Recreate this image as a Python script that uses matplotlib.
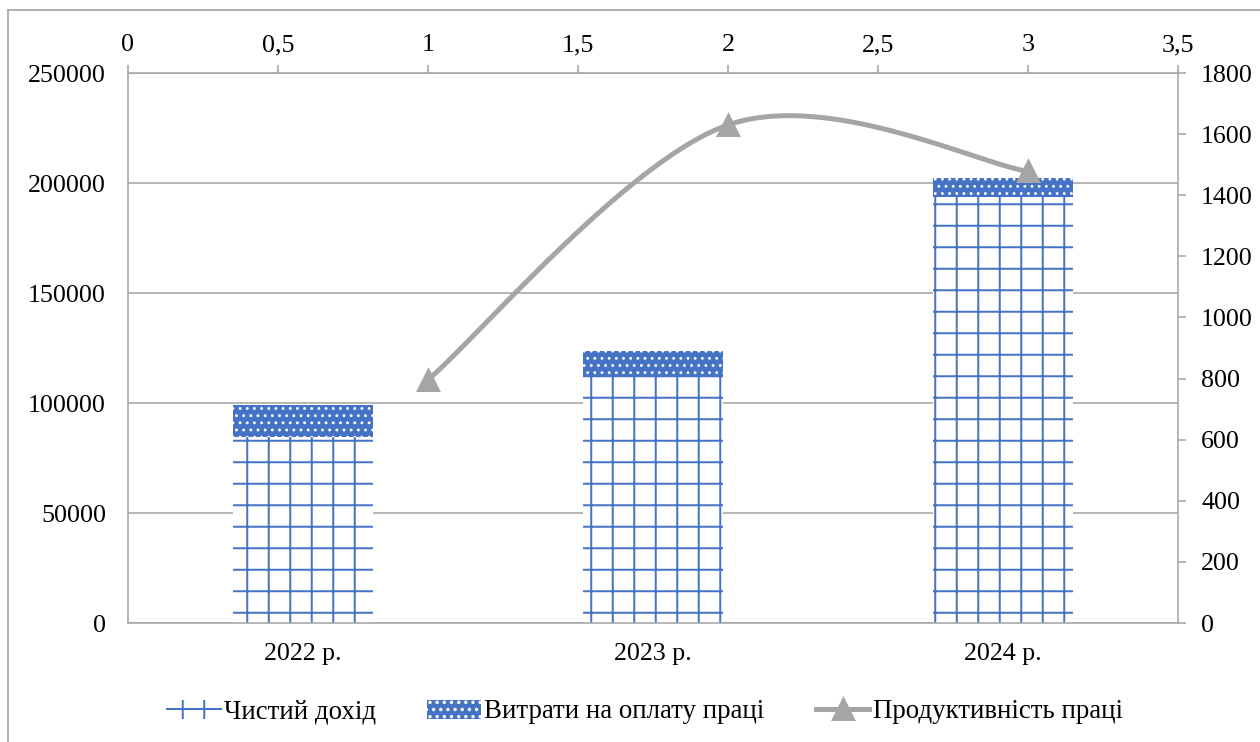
import numpy as np
import matplotlib
matplotlib.use("Agg")
import matplotlib.pyplot as plt
from matplotlib.lines import Line2D
from matplotlib.patches import Patch
from matplotlib.legend_handler import HandlerTuple

# --- data -------------------------------------------------------------
years = ["2022 р.", "2023 р.", "2024 р."]
net_income = [84500, 112300, 193800]          # Чистий дохід
labour_costs = [14500, 11500, 8300]           # Витрати на оплату праці
productivity_x = [1, 2, 3]
productivity = [796, 1630, 1478]              # Продуктивність праці

left_ticks = [0, 50000, 100000, 150000, 200000, 250000]
right_ticks = [0, 200, 400, 600, 800, 1000, 1200, 1400, 1600, 1800]
top_ticks = [0, 0.5, 1, 1.5, 2, 2.5, 3, 3.5]

# --- style ------------------------------------------------------------
DPI = 129
W, H = 1260, 742
BLUE = "#4472C4"
GREY = "#A5A5A5"
AXIS = "#A6A6A6"
FS = 14.5

plt.rcParams["font.family"] = ["Liberation Serif", "DejaVu Serif"]
plt.rcParams["hatch.linewidth"] = 1.1


def px(v):
    return v * 72.0 / DPI


fig = plt.figure(figsize=(W / DPI, H / DPI), dpi=DPI)
ax = fig.add_axes([128 / W, 1 - 623 / H, (1178 - 128) / W, (623 - 73) / H])

x = np.arange(len(years))
with plt.rc_context({"hatch.linewidth": 1.1}):
    ax.bar(x, net_income, width=0.4, facecolor="white", edgecolor=BLUE,
           linewidth=0, hatch="+", zorder=2)
with plt.rc_context({"hatch.linewidth": 0.8}):
    ax.bar(x, labour_costs, width=0.4, bottom=net_income, facecolor=BLUE,
           edgecolor="white", linewidth=0, hatch="...", zorder=2)

ax.set_xlim(-0.5, len(years) - 0.5)
ax.set_ylim(0, 250000)
ax.set_yticks(left_ticks)
ax.set_yticklabels([str(t) for t in left_ticks])
ax.set_xticks(x)
ax.set_xticklabels(years)
ax.yaxis.grid(True, color=AXIS, linewidth=px(1.6), zorder=0)
ax.set_axisbelow(True)
ax.tick_params(axis="y", length=0, pad=px(22), labelsize=FS)
ax.tick_params(axis="x", length=0, pad=px(20), labelsize=FS)
for s in ax.spines.values():
    s.set_color(AXIS)
    s.set_linewidth(px(1.6))

# secondary axes: top value axis and right value axis
ax2 = fig.add_axes(ax.get_position(), frameon=False)
ax2.set_xlim(0, 3.5)
ax2.set_ylim(0, 1800)
ax2.xaxis.tick_top()
ax2.yaxis.tick_right()
ax2.set_xticks(top_ticks)
ax2.set_xticklabels([f"{t:g}".replace(".", ",") for t in top_ticks])
ax2.set_yticks(right_ticks)
ax2.set_yticklabels([str(t) for t in right_ticks])
ax2.tick_params(axis="x", direction="out", length=px(8), width=px(1.6),
                color=AXIS, pad=px(9), labelsize=FS)
ax2.tick_params(axis="y", direction="out", length=px(8), width=px(1.6),
                color=AXIS, pad=px(15), labelsize=FS)

# smoothed line (Catmull-Rom Bezier built in display space)
fig.canvas.draw()
pts = ax2.transData.transform(np.column_stack([productivity_x, productivity]))
n = len(pts)
curve = [pts[0]]
t = np.linspace(0, 1, 60)[1:, None]
for i in range(n - 1):
    p0 = pts[max(i - 1, 0)]
    p1 = pts[i]
    p2 = pts[i + 1]
    p3 = pts[min(i + 2, n - 1)]
    c1 = p1 + (p2 - p0) / 6.0
    c2 = p2 - (p3 - p1) / 6.0
    seg = ((1 - t) ** 3) * p1 + 3 * ((1 - t) ** 2) * t * c1 \
        + 3 * (1 - t) * t ** 2 * c2 + t ** 3 * p2
    curve.extend(seg)
curve = ax2.transData.inverted().transform(np.array(curve))
ax2.plot(curve[:, 0], curve[:, 1], color=GREY, linewidth=px(5),
         solid_capstyle="round", zorder=3)
ax2.plot(productivity_x, productivity, linestyle="none", marker="^",
         markersize=px(20), color=GREY, markeredgecolor=GREY,
         markeredgewidth=px(3), zorder=4)

# outer chart border (top and left edges)
fig.add_artist(Line2D([8 / W, 8 / W], [0, 1 - 10 / H], color="#A0A0A0",
                      linewidth=px(1.6), transform=fig.transFigure))
fig.add_artist(Line2D([8 / W, 1], [1 - 10 / H, 1 - 10 / H], color="#A0A0A0",
                      linewidth=px(1.6), transform=fig.transFigure))

with plt.rc_context({"hatch.linewidth": 1.1}):
    h_income = (Patch(facecolor="white", edgecolor=BLUE, linewidth=0, hatch="+"),
                Line2D([], [], color=BLUE, linewidth=px(2)))
with plt.rc_context({"hatch.linewidth": 0.8}):
    h_costs = Patch(facecolor=BLUE, edgecolor="white", linewidth=0, hatch="...")
h_prod = Line2D([], [], color=GREY, linewidth=px(5), marker="^",
                markersize=px(20), markeredgewidth=px(3))
labels = ["Чистий дохід", "Витрати на оплату праці", "Продуктивність праці"]
fig.legend([h_income, h_costs, h_prod], labels, loc="center",
           bbox_to_anchor=(645 / W, 1 - 712 / H),
           ncol=3, frameon=False, fontsize=15, handlelength=2.0,
           handleheight=0.7, handletextpad=0.12, columnspacing=1.9,
           handler_map={tuple: HandlerTuple(ndivide=1)})

fig.savefig("out.png", dpi=DPI)
